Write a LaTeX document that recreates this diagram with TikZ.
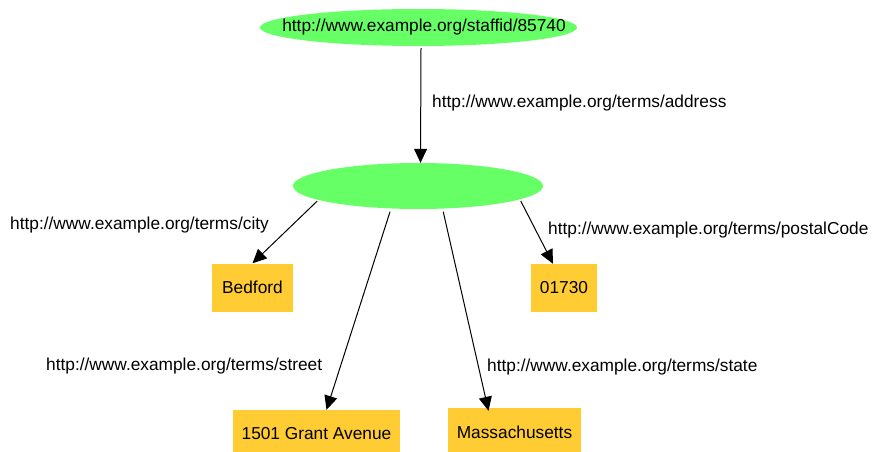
\documentclass[tikz,border=0pt]{standalone}
\usepackage{fontspec}
\setmainfont{Liberation Sans}
\usetikzlibrary{shapes.geometric,arrows.meta}
\definecolor{rdfgreen}{RGB}{102,255,102}
\definecolor{rdforange}{RGB}{255,204,51}
\tikzset{
  res/.style={ellipse, fill=rdfgreen, inner sep=0pt},
  lit/.style={rectangle, fill=rdforange, inner sep=0pt, minimum height=48pt},
  prop/.style={anchor=west, inner sep=0pt},
  edge/.style={draw=black, line width=1pt, -{Triangle[length=14pt,width=13pt]}},
}
\begin{document}
\begin{tikzpicture}[x=1pt, y=-1pt, font=\fontsize{17.3}{20}\selectfont]
\useasboundingbox (0,0) rectangle (872,452);
\clip (0,0) rectangle (872,452);
\node[res, minimum width=317pt, minimum height=37pt] (staff) at (418.5,27.5) {\makebox[0pt]{\hspace{11pt}http://www.example.org/staffid/85740}};
\node[res, minimum width=250pt, minimum height=46pt] (addr) at (418,186) {};
\node[lit, minimum width=81pt] (bedford) at (252.5,287.5) {Bedford};
\node[lit, minimum width=66pt] (zip) at (564,288) {01730};
\node[lit, minimum width=167pt] (street) at (316.5,434) {1501 Grant Avenue};
\node[lit, minimum width=133pt] (state) at (514.5,432) {Massachusetts};
\node[prop] (paddr) at (432,103) {http://www.example.org/terms/address};
\node[prop] (pcity) at (10,225) {http://www.example.org/terms/city};
\node[prop] (pzip) at (548,230) {http://www.example.org/terms/postalCode};
\node[prop] (pstreet) at (46,366) {http://www.example.org/terms/street};
\node[prop] (pstate) at (487,367) {http://www.example.org/terms/state};
\draw[edge] ([xshift=2.5pt,yshift=-2pt]staff.south) -- ([xshift=2.5pt]addr.north);
\draw[edge] ([xshift=-1pt,yshift=-1pt]addr.188) -- (bedford.north);
\draw[edge] ([yshift=-3pt]addr.219) -- ([xshift=10pt]street.north);
\draw[edge] ([yshift=-3pt]addr.318) -- ([xshift=-26pt,yshift=-3pt]state.north);
\draw[edge] ([xshift=3pt,yshift=-1pt]addr.352) -- ([xshift=-11pt]zip.north);
\end{tikzpicture}
\end{document}
